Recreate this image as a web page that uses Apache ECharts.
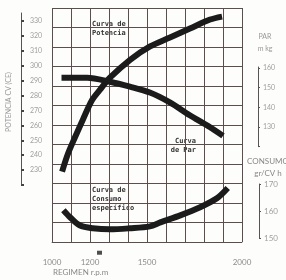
<!DOCTYPE html>
<html>
<head>
    <meta charset="utf-8">
    <title>Curvas motor</title>
    <script src="https://cdn.jsdelivr.net/npm/echarts@6/dist/echarts.min.js"></script>
    <style>
        html, body { margin: 0; padding: 0; background: #fdfdfc; }
        #main { width: 286px; height: 280px; }
    </style>
</head>
<body>
<div id="main"></div>
<script>
    var rpmPotencia = [1053, 1084, 1121, 1163, 1211, 1253, 1305, 1411, 1516, 1621, 1726, 1832, 1895];
    var potencia = [229, 241, 252, 264, 277, 284, 292, 304, 313, 319, 325, 331, 333];

    var rpmPar = [1050, 1185, 1305, 1410, 1515, 1620, 1725, 1830, 1900];
    var par = [155, 155, 153, 150.5, 147.5, 142.5, 136, 130, 125.5];

    var rpmConsumo = [1060, 1095, 1145, 1215, 1305, 1410, 1515, 1570, 1675, 1780, 1870, 1925];
    var consumo = [160.3, 157.7, 154.7, 153.6, 153.2, 153.6, 154.3, 155.8, 158.4, 161.4, 164.8, 168.5];

    var rpmMarca = [1250];

    var ticksRegimen = [1000, 1200, 1500, 2000];
    var ticksPotencia = [230, 240, 250, 260, 270, 280, 290, 300, 310, 320, 330];
    var ticksPar = [130, 140, 150, 160];
    var ticksConsumo = [150, 160, 170];

    function pares(xs, ys) {
        var res = [];
        for (var i = 0; i < xs.length; i++) res.push([xs[i], ys[i]]);
        return res;
    }
    // solo se escriben las etiquetas que aparecen en el original
    function soloEstas(lista) {
        return function (v) { return lista.indexOf(v) >= 0 ? String(v) : ''; };
    }

    var gris = '#8c8c8c';
    var rejilla = '#5e4d4d';
    var fuente = 'Lato';

    var ejeXOculto = function (idx) {
        return { type: 'value', gridIndex: idx, min: 1000, max: 2000, show: false };
    };

    var chart = echarts.init(document.getElementById('main'));

    var option = {
        animation: false,
        grid: [
            { left: 52, right: 44, top: 8, bottom: 38 },     // rejilla
            { left: 52, right: 44, top: 13, bottom: 95 },    // potencia
            { left: 52, right: 44, top: 67, bottom: 133.3 }, // par
            { left: 52, right: 44, top: 184, bottom: 42 }    // consumo
        ],
        xAxis: [
            {
                type: 'value', gridIndex: 0, min: 1000, max: 2000, interval: 100,
                offset: 8,
                axisLine: { show: true, lineStyle: { color: '#888', width: 1 } },
                axisTick: { show: true, inside: true, length: 3, lineStyle: { color: '#666' } },
                axisLabel: {
                    margin: 8, color: gris, fontSize: 8, fontFamily: fuente,
                    formatter: soloEstas(ticksRegimen)
                },
                splitLine: { show: true, lineStyle: { color: rejilla, width: 1 } }
            },
            ejeXOculto(1), ejeXOculto(2), ejeXOculto(3),
            {
                // lineas verticales de la rejilla, dibujadas como marcas largas
                type: 'value', gridIndex: 0, position: 'top', min: 1000, max: 2000, interval: 100,
                axisLine: { show: false }, axisLabel: { show: false }, splitLine: { show: false },
                axisTick: { show: true, inside: true, length: 234, lineStyle: { color: rejilla, width: 1 } }
            }
        ],
        yAxis: [
            {
                type: 'value', gridIndex: 0, min: 0, max: 12, interval: 1,
                axisLine: { show: false }, axisLabel: { show: false },
                axisTick: { show: true, inside: true, length: 190, lineStyle: { color: rejilla, width: 1 } },
                splitLine: { show: true, lineStyle: { color: rejilla, width: 1 } }
            },
            {
                type: 'value', gridIndex: 1, min: 220, max: 335.4, interval: 10,
                position: 'left', offset: 31,
                axisLine: { show: true, lineStyle: { color: '#555', width: 1 } },
                axisTick: { show: true, inside: true, length: 3, lineStyle: { color: '#444', width: 2 } },
                axisLabel: {
                    inside: true, margin: 9, showMaxLabel: false,
                    color: '#a0a0a0', fontSize: 7, fontFamily: fuente,
                    formatter: soloEstas(ticksPotencia)
                },
                splitLine: { show: false }
            },
            {
                type: 'value', gridIndex: 2, min: 120, max: 160.5, interval: 10,
                position: 'right', offset: 16,
                axisLine: { show: true, lineStyle: { color: '#555', width: 1 } },
                axisTick: { show: true, length: 2, lineStyle: { color: '#555' } },
                axisLabel: {
                    margin: 5, showMaxLabel: false,
                    color: '#a0a0a0', fontSize: 7, fontFamily: fuente,
                    formatter: soloEstas(ticksPar)
                },
                splitLine: { show: false }
            },
            {
                type: 'value', gridIndex: 3, min: 150, max: 170, interval: 10,
                position: 'right', offset: 17,
                axisLine: { show: true, lineStyle: { color: '#555', width: 1 } },
                axisTick: { show: true, length: 2, lineStyle: { color: '#555' } },
                axisLabel: {
                    margin: 5,
                    color: '#a0a0a0', fontSize: 8, fontFamily: fuente,
                    formatter: soloEstas(ticksConsumo)
                },
                splitLine: { show: false }
            }
        ],
        graphic: [
            { type: 'text', x: 9, y: 102, rotation: Math.PI / 2,
              style: { text: 'POTENCIA CV (CE)', align: 'center', verticalAlign: 'middle', fill: '#999', font: '7px Lato' } },
            { type: 'text', x: 265, y: 43,
              style: { text: 'PAR\nm kg', align: 'center', verticalAlign: 'middle', fill: '#999', font: '7px Lato', lineHeight: 12 } },
            { type: 'text', x: 268, y: 167,
              style: { text: 'CONSUMO\ngr/CV h', align: 'center', verticalAlign: 'middle', fill: '#888', font: '8px Lato', lineHeight: 12 } },
            { type: 'text', x: 53, y: 272,
              style: { text: 'REGIMEN r.p.m', align: 'left', verticalAlign: 'middle', fill: '#888', font: '8px Lato' } },
            { type: 'text', x: 92, y: 29,
              style: { text: 'Curva de\nPotencia', align: 'left', verticalAlign: 'middle', fill: '#333', font: 'bold 7px "DejaVu Sans Mono"', lineHeight: 9 } },
            { type: 'text', x: 196, y: 146,
              style: { text: 'Curva\nde Par', align: 'right', verticalAlign: 'middle', fill: '#333', font: 'bold 7px "DejaVu Sans Mono"', lineHeight: 9 } },
            { type: 'text', x: 92, y: 199,
              style: { text: 'Curva de\nConsumo\nespecífico', align: 'left', verticalAlign: 'middle', fill: '#333', font: 'bold 7px "DejaVu Sans Mono"', lineHeight: 9 } }
        ],
        series: [
            {
                name: 'Potencia', type: 'line', xAxisIndex: 1, yAxisIndex: 1,
                data: pares(rpmPotencia, potencia),
                smooth: 0.3, symbol: 'none', clip: false,
                lineStyle: { color: '#1b1b1b', width: 6 }
            },
            {
                name: 'Par', type: 'line', xAxisIndex: 2, yAxisIndex: 2,
                data: pares(rpmPar, par),
                smooth: 0.3, symbol: 'none', clip: false,
                lineStyle: { color: '#1b1b1b', width: 6 }
            },
            {
                name: 'Consumo', type: 'line', xAxisIndex: 3, yAxisIndex: 3,
                data: pares(rpmConsumo, consumo),
                smooth: 0.3, symbol: 'none', clip: false,
                lineStyle: { color: '#1b1b1b', width: 6 }
            },
            {
                name: 'marca', type: 'scatter', xAxisIndex: 0, yAxisIndex: 0,
                data: rpmMarca.map(function (r) { return [r, -0.55]; }),
                symbol: 'rect', symbolSize: [5, 4], clip: false,
                itemStyle: { color: '#222' }
            }
        ]
    };
    chart.setOption(option);
</script>
</body>
</html>
